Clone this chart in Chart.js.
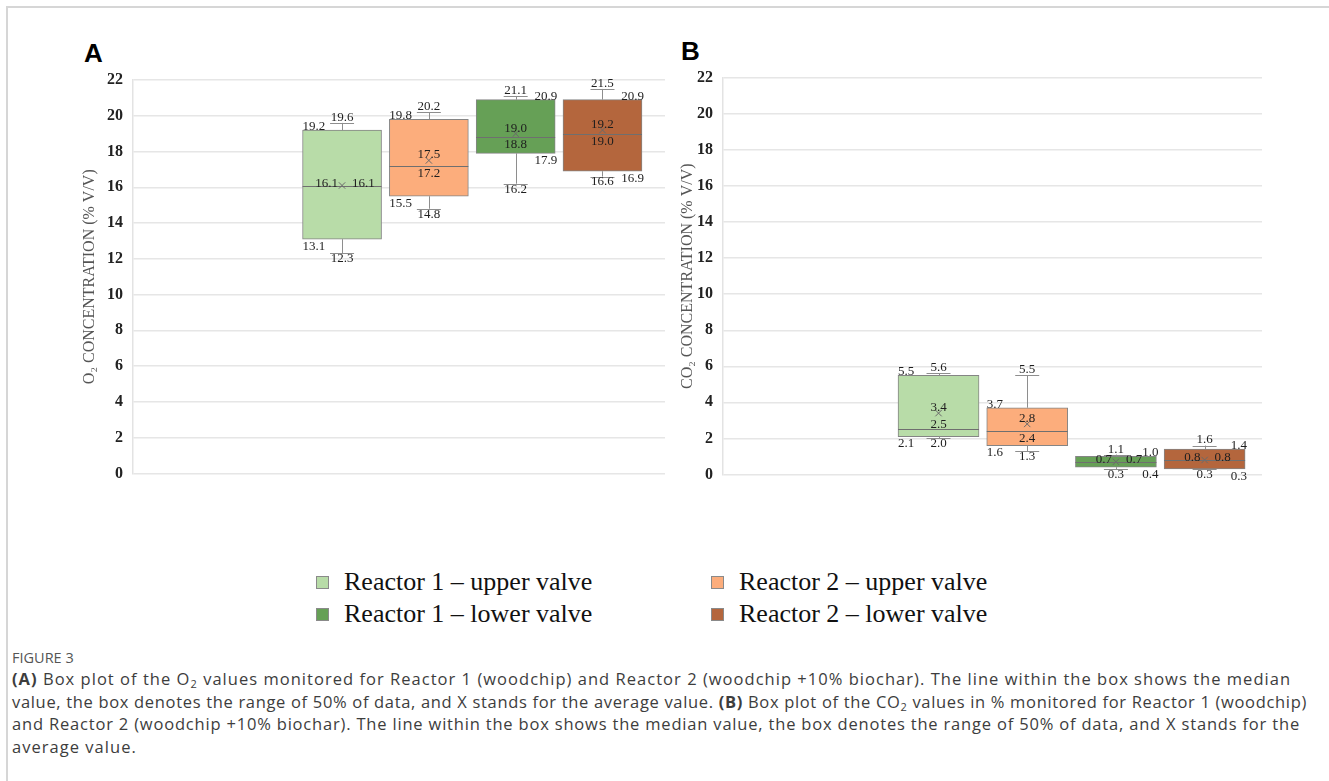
<!DOCTYPE html>
<html>
<head>
<meta charset="utf-8">
<script src="https://cdn.jsdelivr.net/npm/chart.js@4.4.1/dist/chart.umd.min.js"></script>
<style>
  html, body { margin:0; padding:0; background:#fff; }
  body { width:1329px; height:781px; position:relative; overflow:hidden; }
  .frame-top { position:absolute; left:7px; top:6px; right:0; height:2px; background:#d6d6d6; }
  .frame-left { position:absolute; left:6px; top:6px; bottom:0; width:2px; background:#d6d6d6; }
  .panel-label { position:absolute; font-family:"Liberation Sans", Arial, sans-serif; font-weight:bold; font-size:26px; color:#000; }
  canvas { position:absolute; }
  .legend { position:absolute; font-family:"Liberation Serif", "Times New Roman", serif; font-size:26px; color:#111; }
  .legend .item { position:absolute; white-space:nowrap; display:flex; align-items:center; }
  .legend .sw { width:11px; height:11px; border:1px solid #8a8a8a; margin-right:15px; }
  .caption { position:absolute; left:12px; top:647px; font-family:"Open Sans", "Noto Sans", sans-serif; color:#3d3d3d; }
  .caption .fig { font-size:14.5px; color:#555; line-height:21px; }
  .caption .line { font-size:16.5px; line-height:22.5px; white-space:nowrap; display:block; width:max-content; }
  .caption sub { font-size:11px; vertical-align:-3px; line-height:0; }
</style>
</head>
<body>
<div class="frame-top"></div>
<div class="frame-left"></div>
<div class="panel-label" style="left:84px; top:38px;">A</div>
<div class="panel-label" style="left:681px; top:36px;">B</div>
<canvas id="chartA" width="635" height="445" style="left:40px; top:48px; width:635px; height:445px;"></canvas>
<canvas id="chartB" width="640" height="448" style="left:640px; top:46px; width:640px; height:448px;"></canvas>
<div class="legend" id="legend"></div>
<div class="caption">
  <div class="fig">FIGURE 3</div>
  <div class="line" data-w="1279"><b>(A)</b> Box plot of the O<sub>2</sub> values monitored for Reactor 1 (woodchip) and Reactor 2 (woodchip +10% biochar). The line within the box shows the median</div>
  <div class="line" data-w="1295">value, the box denotes the range of 50% of data, and X stands for the average value. <b>(B)</b> Box plot of the CO<sub>2</sub> values in % monitored for Reactor 1 (woodchip)</div>
  <div class="line" data-w="1288">and Reactor 2 (woodchip +10% biochar). The line within the box shows the median value, the box denotes the range of 50% of data, and X stands for the</div>
  <div class="line" data-w="0">average value.</div>
</div>
<script>
// ---------- DATA ----------
const seriesNames = ["Reactor 1 \u2013 upper valve", "Reactor 2 \u2013 upper valve", "Reactor 1 \u2013 lower valve", "Reactor 2 \u2013 lower valve"];
const yTicks = [0, 2, 4, 6, 8, 10, 12, 14, 16, 18, 20, 22];

// Panel A: O2 (% V/V)
const o2Min    = [12.3, 14.8, 16.2, 16.6];
const o2Q1     = [13.1, 15.5, 17.9, 16.9];
const o2Median = [16.1, 17.2, 18.8, 19.0];
const o2Mean   = [16.1, 17.5, 19.0, 19.2];
const o2Q3     = [19.2, 19.8, 20.9, 20.9];
const o2Max    = [19.6, 20.2, 21.1, 21.5];

// Panel B: CO2 (% V/V)
const co2Min    = [2.0, 1.3, 0.3, 0.3];
const co2Q1     = [2.1, 1.6, 0.4, 0.3];
const co2Median = [2.5, 2.4, 0.7, 0.8];
const co2Mean   = [3.4, 2.8, 0.7, 0.8];
const co2Q3     = [5.5, 3.7, 1.0, 1.4];
const co2Max    = [5.6, 5.5, 1.1, 1.6];

// ---------- STYLE ----------
const fillColors = ["#b8dca8", "#fcad7c", "#66a056", "#b4663d"];
const boxBorder = "#858585";
const whiskerColor = "#8e8e8e";
const labelSides = ["left", "left", "right", "right"];
const labelFont = '13px "Liberation Serif", "Times New Roman", serif';
const labelColor = "#1e1e1e";

// caption line fitting (letter-spacing)
document.querySelectorAll('.caption .line').forEach(el => {
  const target = +el.dataset.w;
  const chars = el.textContent.length;
  if (target > 0) {
    const w = el.getBoundingClientRect().width;
    el.style.letterSpacing = ((target - w) / chars).toFixed(3) + 'px';
  }
});
(function(){
  const lines = document.querySelectorAll('.caption .line');
  lines[3].style.letterSpacing = lines[0].style.letterSpacing;
})();

// legend (HTML)
(function(){
  const lg = document.getElementById('legend');
  const pos = [[316, 567], [711, 567], [316, 599], [711, 599]];
  [0, 1, 2, 3].forEach((k) => {
    const d = document.createElement('div');
    d.className = 'item';
    d.style.left = pos[k][0] + 'px';
    d.style.top = pos[k][1] + 'px';
    d.innerHTML = '<span class="sw" style="background:' + fillColors[k] + '"></span><span>' + seriesNames[k] + '</span>';
    lg.appendChild(d);
  });
})();

const fmt = v => v.toFixed(1);

const boxPlugin = {
  id: 'boxDecor',
  afterDatasetsDraw(chart) {
    const st = chart.options.plugins.boxDecor;
    const ctx = chart.ctx;
    const xs = chart.scales.x, ys = chart.scales.y;
    const meta = chart.getDatasetMeta(0);
    ctx.save();
    ctx.font = labelFont;
    ctx.fillStyle = labelColor;
    st.q1.forEach((_, i) => {
      const el = meta.data[i];
      const cx = xs.getPixelForValue(i + 1);
      const half = el.width / 2;
      const left = cx - half, right = cx + half;
      const yMin = ys.getPixelForValue(st.min[i]);
      const yQ1 = ys.getPixelForValue(st.q1[i]);
      const yMed = ys.getPixelForValue(st.median[i]);
      const yMean = ys.getPixelForValue(st.mean[i]);
      const yQ3 = ys.getPixelForValue(st.q3[i]);
      const yMax = ys.getPixelForValue(st.max[i]);
      ctx.strokeStyle = whiskerColor;
      ctx.lineWidth = 1;
      ctx.beginPath();
      ctx.moveTo(Math.round(cx) + 0.5, yQ3); ctx.lineTo(Math.round(cx) + 0.5, yMax);
      ctx.moveTo(Math.round(cx) + 0.5, yQ1); ctx.lineTo(Math.round(cx) + 0.5, yMin);
      ctx.moveTo(cx - 12, Math.round(yMax) + 0.5); ctx.lineTo(cx + 12, Math.round(yMax) + 0.5);
      ctx.moveTo(cx - 12, Math.round(yMin) + 0.5); ctx.lineTo(cx + 12, Math.round(yMin) + 0.5);
      ctx.stroke();
      ctx.strokeStyle = '#6f6f6f';
      ctx.beginPath();
      ctx.moveTo(left, Math.round(yMed) + 0.5); ctx.lineTo(right, Math.round(yMed) + 0.5);
      ctx.stroke();
      ctx.fillStyle = labelColor;
      const side = labelSides[i];
      ctx.textAlign = side === 'left' ? 'left' : 'right';
      const sx = side === 'left' ? left : right + 2;
      ctx.textBaseline = 'bottom';
      ctx.fillText(fmt(st.q3[i]), sx, yQ3 + 3);
      ctx.textBaseline = 'top';
      ctx.fillText(fmt(st.q1[i]), sx, yQ1 + 1);
      ctx.textAlign = 'center';
      ctx.textBaseline = 'bottom';
      ctx.fillText(fmt(st.max[i]), cx, yMax + 1);
      ctx.textBaseline = 'top';
      ctx.fillText(fmt(st.min[i]), cx, yMin - 1);
      if (st.mean[i] === st.median[i]) {
        ctx.textBaseline = 'middle';
        ctx.textAlign = 'right';
        ctx.fillText(fmt(st.mean[i]), cx - 4, yMed - 2);
        ctx.textAlign = 'left';
        ctx.fillText(fmt(st.median[i]), cx + 10, yMed - 2);
      } else {
        ctx.textAlign = 'center';
        ctx.textBaseline = 'bottom';
        ctx.fillText(fmt(st.mean[i]), cx, yMean + 1);
        if (yQ1 - yMed > 14) {
          ctx.textBaseline = 'top';
          ctx.fillText(fmt(st.median[i]), cx, yMed + 1);
        } else {
          ctx.textBaseline = 'bottom';
          ctx.fillText(fmt(st.median[i]), cx, yMed + 2);
        }
      }
    });
    ctx.restore();
  }
};

function makeChart(id, d, cfg) {
  const positions = d.q1.map((_, i) => i + 1);
  return new Chart(document.getElementById(id), {
    type: 'bar',
    data: {
      datasets: [
        {
          type: 'bar',
          order: 2,
          data: positions.map((p, i) => ({ x: p, y: [d.q1[i], d.q3[i]] })),
          backgroundColor: fillColors,
          borderColor: boxBorder,
          borderWidth: 1,
          borderSkipped: false,
          barThickness: cfg.barThickness
        },
        {
          type: 'scatter',
          order: 1,
          data: positions.map((p, i) => ({ x: p, y: d.mean[i] })),
          pointStyle: 'crossRot',
          pointRadius: 4.5,
          borderColor: '#6a6a6a',
          borderWidth: 1,
          backgroundColor: '#6a6a6a'
        }
      ]
    },
    options: {
      responsive: false,
      animation: false,
      devicePixelRatio: 1,
      layout: { padding: cfg.padding },
      plugins: {
        legend: { display: false },
        tooltip: { enabled: false },
        boxDecor: d
      },
      scales: {
        x: { type: 'linear', display: false, offset: false, min: cfg.xMin, max: cfg.xMax },
        y: {
          min: 0,
          max: 22,
          afterBuildTicks(s) { s.ticks = yTicks.map(v => ({ value: v })); },
          afterFit(s) { s.width = cfg.axisWidth; },
          grid: { color: '#e6e6e6', lineWidth: 1.5, drawTicks: false },
          border: { color: '#e3e3e3', width: 1.5 },
          ticks: {
            padding: 10,
            color: '#222',
            font: { family: '"Liberation Serif", "Times New Roman", serif', size: 16, weight: 'bold' }
          },
          title: {
            display: true,
            text: cfg.title,
            color: '#555',
            padding: { top: cfg.titlePad, bottom: 0 },
            font: { family: '"Liberation Serif", "Times New Roman", serif', size: 16 }
          }
        }
      }
    },
    plugins: [boxPlugin]
  });
}

makeChart('chartA',
  { min: o2Min, q1: o2Q1, median: o2Median, mean: o2Mean, q3: o2Q3, max: o2Max },
  { title: 'O\u2082 CONCENTRATION (% V/V)', axisWidth: 93, titlePad: 40,
    padding: { top: 32, bottom: 10, left: 0, right: 10 },
    xMin: -1.408, xMax: 4.72, barThickness: 79 });

makeChart('chartB',
  { min: co2Min, q1: co2Q1, median: co2Median, mean: co2Mean, q3: co2Q3, max: co2Max },
  { title: 'CO\u2082 CONCENTRATION (% V/V)', axisWidth: 83, titlePad: 38,
    padding: { top: 32, bottom: 10, left: 0, right: 18 },
    xMin: -1.43, xMax: 4.647, barThickness: 81 });
</script>
</body>
</html>
